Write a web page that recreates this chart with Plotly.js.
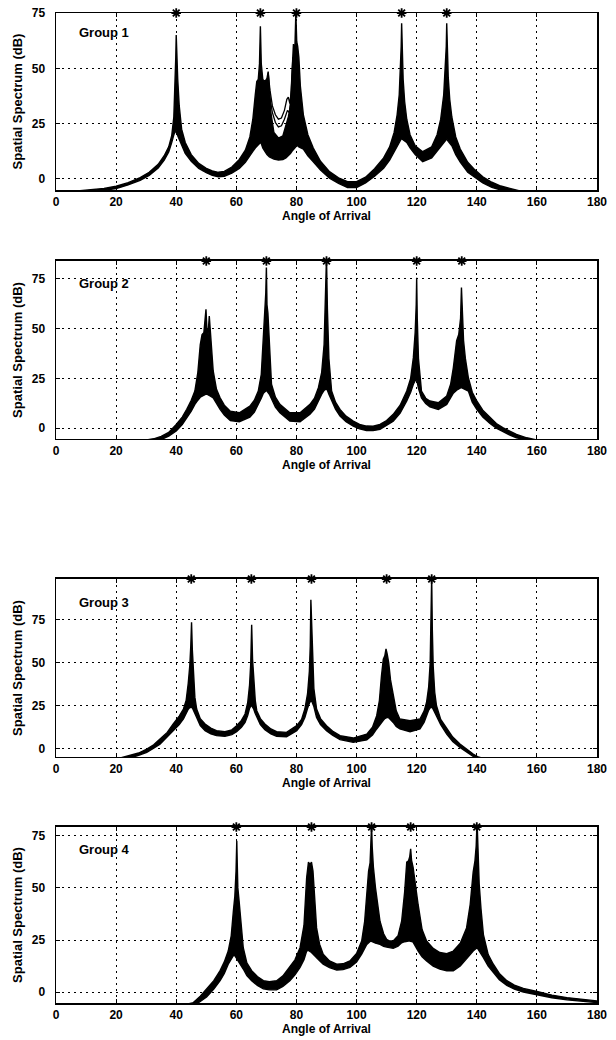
<!DOCTYPE html>
<html>
<head>
<meta charset="utf-8">
<script src="https://cdn.plot.ly/plotly-3.0.1.min.js"></script>
<style>html,body{margin:0;padding:0;background:#fff;}#chart{width:616px;height:1040px;}</style>
</head>
<body>
<div id="chart"></div>
<script>
// ---------- data ----------
const xTickVals = [0,20,40,60,80,100,120,140,160,180];
const yTickVals = [0,25,50,75];
const groupNames = ["Group 1","Group 2","Group 3","Group 4"];
const xTitle = "Angle of Arrival";
const yTitle = "Spatial Spectrum (dB)";

// Group 1
const g1_doa = [40,68,80,115,130];
const g1_top = 75;
const g1_x  = [8,12,16,20,24,28,31,34,36,37.5,38.5,39.2,39.6,39.85,40,40.15,40.5,41,41.8,43,45,47.5,50,52,54,56,58.5,61,63,64.5,65.5,66.3,66.8,67.3,67.7,68,68.3,68.8,69.5,70.2,70.6,71,71.5,72.5,74,75.5,76.5,77.3,78,78.5,79,79.4,79.8,80.1,80.4,80.8,81.3,82.3,83.8,85.6,88,91,94,97,100,103,106,109,111,112.5,113.5,114.2,114.6,114.85,115,115.15,115.5,116,116.7,117.8,119.5,122,125,126.8,128,129,129.5,129.85,130,130.15,130.5,131,131.7,133,134.5,137,139,142,145,148,151,154,158];
const g1_hi = [-5.3,-4.9,-4.3,-3.3,-1.7,0.6,3.0,6.6,10.5,14.5,19.5,28,42,55,65,56,45,33,22.5,16.5,11,7,4.8,3.6,3.0,3.4,5.4,8.8,13,19,27,38,44,45,52,69,52,45,44,45.5,48.5,41,30,21,18.5,19.5,24,28,33,50,61,55,75,62,60,55,42,29,20,14,8,3.3,0.5,-1.2,-1.2,0.8,4.6,9.5,14.5,21,29,38,50,60,70.4,60,45,35,27,20,15,12.3,14.5,20,27,38,48,60,70.4,60,46,36,28,19,13.5,7.5,4.6,1,-1.5,-3.2,-4.4,-5.3,-6];
const g1_lo = [-6,-6,-5.2,-4.3,-2.7,-0.6,1.6,5.0,8.5,12.2,16.5,20,21,21.5,22,21,19.5,17.5,15.2,11.5,8,4.8,2.8,1.6,1.0,1.2,2.6,4.8,7.5,10.5,12.5,14,15,15.5,16,16.5,16,14,12.5,11,10.5,10,9.5,9,8.6,8.8,9.5,10.5,11.5,12.5,13.5,14,14.5,15,15,14.5,14,13.5,10.5,7.8,4,0.3,-2,-3.9,-3.9,-1.8,1.2,4.8,8.5,12.3,14.5,16.5,17.5,18,18.4,18,17.5,17.2,16.5,14,11,7.8,9.5,12.5,15,16.5,17.2,17.8,18.2,17.8,17,16,15,11,7.6,3,0.9,-1.8,-3.8,-5,-6,-6.5,-7];
// thin individual curves above the band (Group 1, 70-79 deg)
const g1_t1_x = [70.6,71.2,72,73,74,75,76,76.8,77.3,77.8,78.3,78.8];
const g1_t1_y = [48,40,33,29,27,27.5,31,36,37,34,40,55];
const g1_t2_x = [71,72,73,74,75,76,77,77.6,78.2];
const g1_t2_y = [38,30,25.5,23.5,24,27,31,30,36];

// Group 2
const g2_doa = [50,70,90,120,135];
const g2_top = 84;
const g2_x  = [30,32.5,35,37.5,40,42,43.5,45,46.2,47.2,48,48.6,49.2,49.6,49.9,50.2,50.6,51,51.4,52.3,53.4,54.6,56,58,61,64.5,66,67.3,68.3,69,69.5,69.8,70,70.2,70.5,71,71.7,73,74.5,77.8,81.2,84.5,86,87.3,88.4,89.2,89.7,90,90.3,90.8,91.7,93,94.5,96.5,98.9,101,103.3,105.5,107.8,110,112.2,114.5,116.7,118,118.9,119.5,119.85,120,120.2,120.6,121.6,123,124.4,127.2,130,131.3,132.2,133.3,134,134.6,134.9,135.2,135.6,136.2,137.2,138.5,140,142,144.4,146.5,148.8,151,153.2,156.6,160];
const g2_hi = [-6,-5.4,-4.2,-2.2,1.8,5.5,9.4,14,18.6,28,42,47,48,54,59.7,50,47,56.3,46,28.7,19.5,15.2,11.5,8.5,7.7,11,14,18.6,27,45,60,68,80.7,62,58,40,22,15.5,11.9,7.7,7.7,11.9,15,20.3,28,42,62,86,60,35,18.6,13,9.4,6,3.5,1.8,1,0.9,1.8,3.8,6.9,11.5,18.6,25,35.4,48,62,75.6,55,35,18.6,15,13.6,12.7,16.1,22,30.3,44,47,55,70.6,54,44,35,25.3,18,13.6,9,5.2,2.3,0.1,-1.7,-3.2,-4.9,-6];
const g2_lo = [-7,-6.5,-5.8,-4,-1.5,1.8,5.2,8.5,11.9,14,15.5,16.2,16.6,16.8,17,17,16.8,16.5,16,15.2,12.2,9.4,6.5,3.8,3.2,5.5,8,11.9,15,17.5,18.3,18.6,19,18.6,18,17,15.2,10.5,7.7,3.5,3.2,6.9,9.5,13.6,17,19,19.4,19.6,19,17,13.6,9.5,6,3.2,1,-0.4,-1.2,-1.3,-0.7,1.2,3.5,7.5,13.6,18,22,23.8,24.3,24.5,23.5,20,15.2,12.3,10.7,9.4,11.9,15,17.5,19,19.8,20.2,20.3,20.2,20,19.5,18.6,13,9.4,5.5,2.3,0,-1.9,-3.5,-4.9,-6,-7];

// Group 3
const g3_doa = [45,65,85,110,125];
const g3_top = 98.7;
const g3_x  = [20,24.6,27.5,30.2,32.5,34.6,37,39,41,42.4,43.3,44,44.5,44.85,45.1,45.35,45.7,46.2,46.8,48,49.6,51.5,53.4,56.2,58.5,60.1,61.7,62.9,63.8,64.4,64.8,65.1,65.4,65.8,66.3,66.8,68,69.5,71.5,73.4,76.7,80.1,81.7,82.8,83.7,84.3,84.6,84.8,85,85.3,85.8,86.7,88,90,92,94.5,98.9,103.4,105.3,106.7,107.6,108.3,108.9,109.4,109.8,110.2,110.7,111.3,112.2,113.2,114.4,117.8,121.1,122.5,123.3,124,124.5,124.8,125,125.2,125.5,126,126.6,128,130,132,134.4,136.5,138.8,140.5,143];
const g3_hi = [-6,-4,-2.5,-0.2,2.3,5.6,9.5,14.4,19,23.1,28,38,48,60,73.5,58,42,30,23.1,17.5,14.4,12,10.5,9.9,11,13.4,16.5,20.2,27,37,50,72.1,52,38,28,22.1,17.5,14.4,11.5,9.9,9.5,13.4,17,23.1,32,45,60,86.6,75,50,35,23.1,17.5,13.4,10.3,7.6,6.2,8.5,12.5,19.2,28,42.5,52,54,58,55,50,40,30.8,22,17.3,16.3,17.3,22,27,36,50,70,100,70,48,33,25,17,11.5,6.8,2.7,-0.3,-3.1,-4.8,-6];
const g3_lo = [-7,-5.5,-3.8,-2.1,0.4,2.7,6.5,10.5,14,17.3,20.5,23,24,24.2,24.1,23.8,23,21,18.2,13.5,10.5,8.7,7.6,7.2,8.2,9.9,12.5,15.3,19.5,23.5,24.8,25,24.5,23,20.5,18.2,14,11,8.6,7.2,7,10.5,14,18.2,23.5,26.5,27.5,28,28,27,24.5,18.2,14,10.5,7.9,5.3,3.7,5.1,8,11.5,13.5,15.3,16.5,17.5,18,18.2,18,17,15.3,13,11.5,9.9,11.5,15.5,19.2,22.5,23.8,24.1,24.1,24,23.5,21.5,19.2,14,8.5,4.2,0.8,-1.8,-4.4,-5.8,-7];

// Group 4
const g4_doa = [60,85,105,118,140];
const g4_top = 79.2;
const g4_x  = [43,45.7,48,50.1,52.5,54.6,56,57.3,58.3,59,59.5,59.9,60.15,60.3,60.5,60.9,61.5,62.3,63.5,65.1,67,69,71,73.4,75.5,77.8,79.5,81.2,82.5,83.4,84,84.5,85,85.5,86,86.7,87.7,88.9,91,93.4,95.5,97.8,100,101.7,102.7,103.4,104,104.5,104.8,105,105.2,105.6,106.3,107.8,109,110,111,112.2,113.8,115,116,116.7,117.3,117.7,118,118.3,118.8,119.5,120.5,121.8,123.3,125.5,127.7,130,132.2,134.5,136.6,137.8,138.8,139.4,139.8,140.1,140.4,140.8,141.4,142.2,143.8,145.5,147.5,150,152.5,155.5,160,165,170,175,180];
const g4_hi = [-6,-5,-2,1.6,5.5,10.3,14.5,19.7,27,38.7,46,58,72.6,62,50,44,33,21.3,14,10.3,7.5,5.5,5,5.5,7.8,11.9,15.5,21.3,32,55,62.4,61,62.4,58,45,30.8,23,18.2,15,13.4,13.6,15,18.5,24.5,34,49.7,58,62,70,80,70,60,50,34,28,25.3,24.5,24.5,27,34,48,62.4,63,65,68.7,63.2,60,52,41.8,30,24.5,21,19,18.5,19.7,23.5,30.8,42,57.6,63,70,82,66,52,40,27.6,18,13.4,9,5.5,3.4,1.8,0.3,-1.4,-2.6,-3.5,-4.2];
const g4_lo = [-7,-6.5,-4.5,-2.3,1.5,5.5,9,13.4,16,17.5,17.5,16.5,16,15.5,15,14,12.8,11.1,8,5.5,3.2,1.6,1.1,1.1,2.8,5.5,8.3,11.9,15.5,19.7,20,19.5,19,18.5,17.5,16.6,15,13.4,11.8,10.6,10.8,11.9,14.5,18.2,21,22.9,23.8,24.3,24.5,24.5,24.3,24,23.5,22.9,22,21.6,21.2,21,22,23.7,24.2,24.5,24.5,24.5,24.5,24.3,24,22,19.7,17,15,12.5,11.1,10.3,10.3,12.5,15.8,18,19.7,20.5,21,21.3,21,20,18.5,16.6,12.5,9.5,6,3.2,1.5,0.1,-1.3,-2.7,-3.7,-4.4,-5];

// ---------- figure ----------
const groups = [
  {x:g1_x, hi:g1_hi, lo:g1_lo, doa:g1_doa, top:g1_top, range:[-5,75],    dom:[0.8212,1.0],    lab:-19},
  {x:g2_x, hi:g2_hi, lo:g2_lo, doa:g2_doa, top:g2_top, range:[-5.5,84],  dom:[0.5697,0.7495], lab:-23},
  {x:g3_x, hi:g3_hi, lo:g3_lo, doa:g3_doa, top:g3_top, range:[-4.8,98.7],dom:[0.2485,0.4283], lab:-24},
  {x:g4_x, hi:g4_hi, lo:g4_lo, doa:g4_doa, top:g4_top, range:[-5.2,79.2],dom:[0,0.1778],      lab:-23}
];

const FONT = "Liberation Sans, Arial, Helvetica, sans-serif";
const tickFont = {family:FONT, size:12, color:"#000", weight:"bold"};
const traces = [];
const layout = {
  width:616, height:1040,
  margin:{l:56, r:19, t:13, b:37},
  paper_bgcolor:"#fff", plot_bgcolor:"#fff",
  showlegend:false,
  font:{family:FONT, size:13, color:"#000"},
  annotations:[]
};

groups.forEach((g, i) => {
  const n = i === 0 ? "" : String(i+1);
  const xa = "x"+n, ya = "y"+n;
  // band polygon: upper envelope forward, lower envelope back
  traces.push({
    type:"scatter", mode:"lines", xaxis:xa, yaxis:ya,
    x: g.x.concat(g.x.slice().reverse()),
    y: g.hi.concat(g.lo.slice().reverse()),
    fill:"toself", fillcolor:"#000",
    line:{color:"#000", width:1.4}, hoverinfo:"skip"
  });
  if (i === 0) {
    [[g1_t1_x,g1_t1_y],[g1_t2_x,g1_t2_y]].forEach(p => traces.push({
      type:"scatter", mode:"lines", xaxis:xa, yaxis:ya, x:p[0], y:p[1],
      line:{color:"#000", width:1.3}, hoverinfo:"skip"
    }));
  }
  traces.push({
    type:"scatter", mode:"markers", xaxis:xa, yaxis:ya,
    x:g.doa, y:g.doa.map(() => g.top),
    marker:{symbol:"asterisk-open", size:8, color:"#000", line:{color:"#000", width:1.8}},
    cliponaxis:false, hoverinfo:"skip"
  });
  layout["xaxis"+n] = {
    domain:[0,1], anchor:ya, range:[0,180],
    tickvals:xTickVals, ticktext:xTickVals.map(String),
    ticks:"inside", ticklen:4, tickwidth:1, tickcolor:"#000",
    showline:true, linecolor:"#000", linewidth:1.5, mirror:"ticks",
    showgrid:true, gridcolor:"#000", gridwidth:1, griddash:"2px,4px",
    zeroline:false, tickfont:tickFont,
    title:{text:xTitle, font:{family:FONT, size:12, color:"#000", weight:"bold"}, standoff:2},
    fixedrange:true
  };
  layout["yaxis"+n] = {
    domain:g.dom, anchor:xa, range:g.range,
    tickvals:yTickVals, ticktext:yTickVals.map(String),
    ticks:"inside", ticklen:4, tickwidth:1, tickcolor:"#000",
    showline:true, linecolor:"#000", linewidth:1.5, mirror:"ticks",
    showgrid:true, gridcolor:"#000", gridwidth:1, griddash:"2px,4px",
    zeroline:false, tickfont:tickFont,
    ticklabelstandoff:7,
    title:{text:yTitle, font:{family:FONT, size:13, color:"#000", weight:"bold"}, standoff:6},
    fixedrange:true
  };
  layout.annotations.push({
    xref:xa, yref:ya+" domain", x:7, y:1, yshift:g.lab,
    xanchor:"left", yanchor:"middle", showarrow:false,
    text:groupNames[i], font:{family:FONT, size:13, color:"#000", weight:"bold"}
  });
});

Plotly.newPlot("chart", traces, layout, {staticPlot:true, displayModeBar:false});
</script>
</body>
</html>
